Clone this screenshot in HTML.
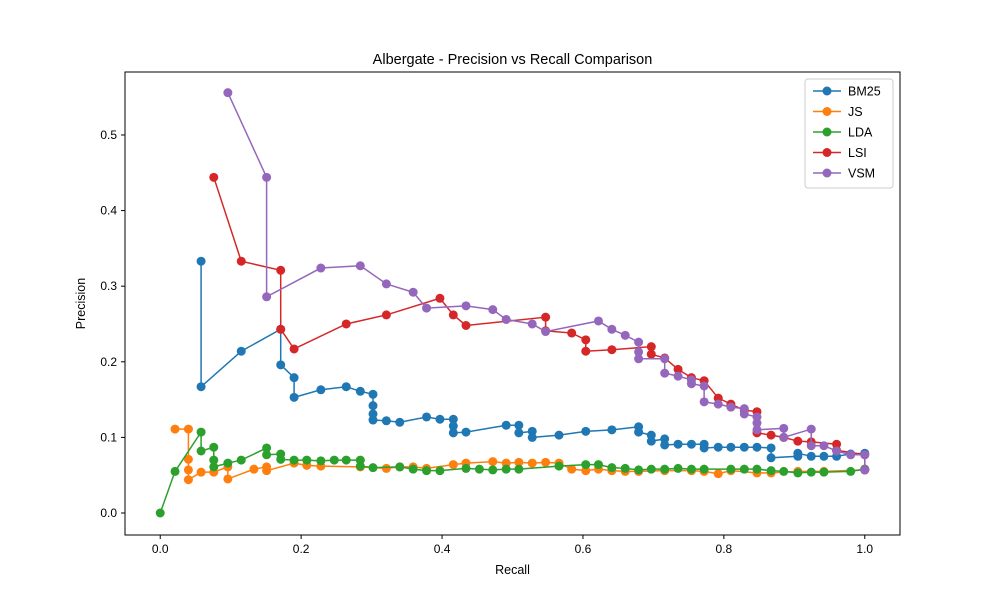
<!DOCTYPE html>
<html><head><meta charset="utf-8"><style>body{margin:0;background:#fff}svg{display:block;font-family:"Liberation Sans",sans-serif}</style></head>
<body>
<svg id="chart" width="1000" height="600"></svg>
<script>
const xTicks=[0,0.2,0.4,0.6,0.8,1.0];
const yTicks=[0,0.1,0.2,0.3,0.4,0.5];
const seriesNames=["BM25","JS","LDA","LSI","VSM"];
const seriesColors=["#1f77b4","#ff7f0e","#2ca02c","#d62728","#9467bd"];
const bm25R=[.058,.058,.115,.171,.171,.19,.19,.228,.264,.284,.302,.302,.302,.302,.321,.34,.378,.397,.416,.416,.416,.434,.491,.509,.509,.528,.528,.566,.604,.641,.679,.679,.697,.697,.716,.716,.735,.754,.772,.772,.792,.81,.829,.847,.867,.867,.905,.905,.924,.942,.96,.98,1,1];
const bm25P=[.333,.167,.214,.243,.196,.179,.153,.163,.167,.161,.157,.142,.131,.123,.122,.12,.127,.124,.124,.115,.106,.107,.116,.116,.106,.108,.1,.103,.108,.11,.114,.107,.103,.095,.098,.09,.091,.091,.091,.086,.087,.087,.087,.087,.086,.073,.075,.079,.075,.075,.075,.078,.079,.058];
const jsR=[.021,.04,.04,.04,.04,.058,.076,.096,.096,.133,.151,.151,.19,.208,.228,.284,.321,.34,.359,.378,.416,.434,.472,.491,.509,.528,.547,.566,.584,.604,.622,.641,.66,.679,.716,.754,.772,.792,.81,.847,.867,.905,.942,1];
const jsP=[.111,.111,.071,.057,.044,.054,.054,.061,.045,.058,.061,.056,.066,.063,.062,.061,.059,.061,.061,.059,.064,.066,.068,.066,.067,.066,.067,.066,.058,.056,.058,.056,.055,.055,.056,.056,.055,.052,.056,.053,.053,.055,.055,.057];
const ldaR=[0,.021,.058,.058,.076,.076,.076,.096,.115,.151,.151,.171,.171,.19,.208,.228,.247,.264,.284,.284,.302,.34,.359,.378,.397,.434,.453,.472,.491,.509,.566,.604,.622,.641,.66,.679,.697,.716,.735,.754,.772,.81,.829,.847,.867,.885,.905,.924,.942,.98,1];
const ldaP=[0,.055,.107,.082,.087,.07,.061,.066,.07,.086,.077,.078,.071,.07,.07,.069,.07,.07,.07,.062,.06,.061,.058,.056,.056,.059,.058,.057,.058,.058,.062,.064,.064,.06,.059,.057,.058,.058,.059,.058,.058,.058,.058,.058,.056,.055,.053,.054,.054,.055,.058];
const lsiR=[.076,.115,.171,.171,.19,.264,.321,.397,.416,.434,.547,.547,.584,.604,.604,.641,.697,.697,.716,.735,.754,.772,.792,.81,.829,.847,.847,.867,.885,.905,.924,.96,.96,1,1];
const lsiP=[.444,.333,.321,.243,.217,.25,.262,.284,.262,.248,.259,.241,.238,.229,.214,.216,.22,.21,.205,.19,.179,.175,.152,.144,.136,.134,.106,.103,.1,.095,.094,.091,.083,.077,.057];
const vsmR=[.096,.151,.151,.228,.284,.321,.359,.378,.434,.472,.491,.528,.547,.622,.641,.66,.679,.679,.679,.716,.716,.735,.754,.754,.772,.772,.792,.81,.829,.829,.847,.847,.847,.885,.885,.924,.924,.942,.96,.98,1,1];
const vsmP=[.556,.444,.286,.324,.327,.303,.292,.271,.274,.269,.256,.25,.24,.254,.243,.235,.226,.213,.204,.204,.185,.181,.176,.171,.168,.147,.144,.14,.138,.131,.127,.119,.11,.112,.1,.111,.089,.089,.082,.077,.077,.057];
const allR=[bm25R,jsR,ldaR,lsiR,vsmR], allP=[bm25P,jsP,ldaP,lsiP,vsmP];

const L=125,R=900,T=72,B=535;
const xs=v=>L+(v+0.05)/1.1*(R-L);
const ys=v=>B-(v+0.0291)/0.6124*(B-T);
const NS="http://www.w3.org/2000/svg";
const svg=document.getElementById('chart');
function mk(tag,at,parent){const e=document.createElementNS(NS,tag);for(const k in at)e.setAttribute(k,at[k]);(parent||svg).appendChild(e);return e;}
const frame=mk('rect',{x:L,y:T,width:R-L,height:B-T,fill:'none',stroke:'#000','stroke-width':1});


xTicks.forEach(t=>{const x=xs(t);mk('line',{x1:x,x2:x,y1:B,y2:B+4,stroke:'#000'});
 const tx=mk('text',{x:x,y:B+18,'text-anchor':'middle','font-size':12});tx.textContent=t.toFixed(1);
 
 });
yTicks.forEach(t=>{const y=ys(t);mk('line',{x1:L-4,x2:L,y1:y,y2:y,stroke:'#000'});
 const tx=mk('text',{x:L-8,y:y+4,'text-anchor':'end','font-size':12});tx.textContent=t.toFixed(1);
 
 });
const title=mk('text',{x:(L+R)/2,y:64,'text-anchor':'middle','font-size':14.5});title.textContent='Albergate - Precision vs Recall Comparison';


const xl=mk('text',{x:(L+R)/2,y:574,'text-anchor':'middle','font-size':12.5});xl.textContent='Recall';


const yl=mk('text',{x:0,y:0,'text-anchor':'middle','font-size':12.5,transform:`translate(85,${(T+B)/2}) rotate(-90)`});yl.textContent='Precision';


allR.forEach((rs,i)=>{
 const g=mk('g',{});
 
 
 const pts=rs.map((r,j)=>xs(r)+','+ys(allP[i][j])).join(' ');
 mk('polyline',{points:pts,fill:'none',stroke:seriesColors[i],'stroke-width':1.5},g);
 rs.forEach((r,j)=>{const c=mk('circle',{cx:xs(r),cy:ys(allP[i][j]),r:4.5,fill:seriesColors[i]},g);
  
  });
});
const lg=mk('g',{});


mk('rect',{x:805,y:79,width:88,height:109,fill:'#fff',stroke:'#ccc',rx:3},lg);
seriesNames.forEach((n,i)=>{const y=91+i*20.5;
 const e=mk('g',{},lg);
 
 
 mk('line',{x1:813,x2:841,y1:y,y2:y,stroke:seriesColors[i],'stroke-width':1.5},e);
 mk('circle',{cx:827,cy:y,r:4.5,fill:seriesColors[i]},e);
 const t=mk('text',{x:848,y:y+4.5,'font-size':12.5},e);t.textContent=n;});
</script>
</body></html>
